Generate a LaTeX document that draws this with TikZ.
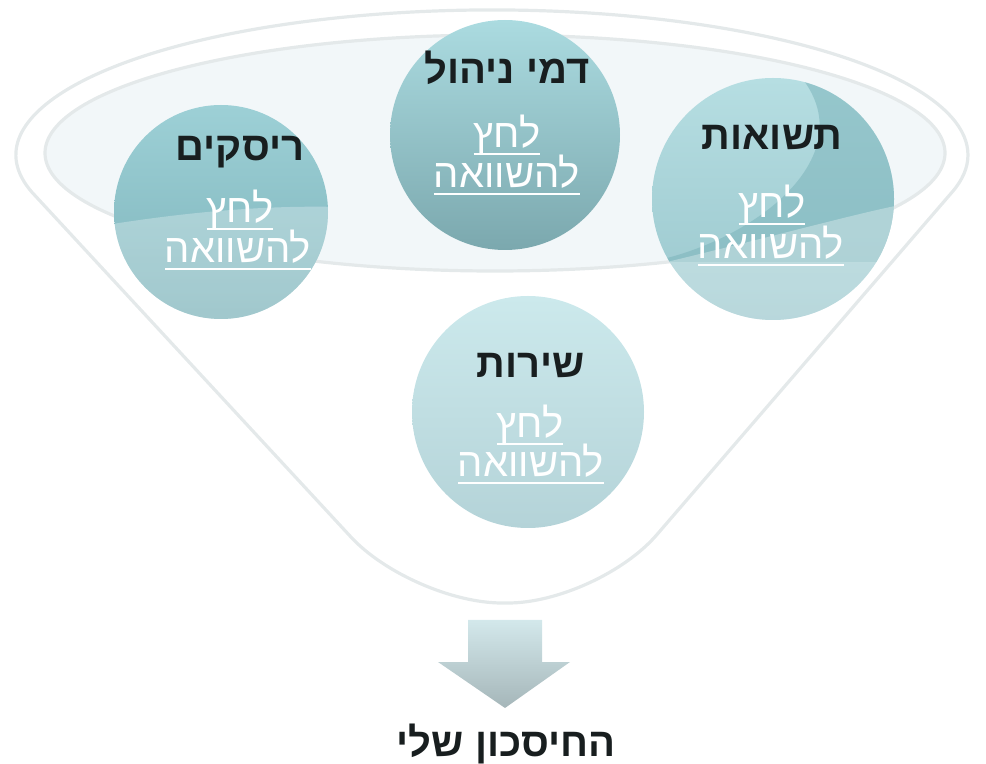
\documentclass[tikz,border=0pt]{standalone}
\usepackage{fontspec}
\setmainfont{Liberation Sans}
\newfontfamily\hebfont[Script=Hebrew]{Liberation Sans}
\TeXXeTstate=1
\usetikzlibrary{positioning}
\definecolor{rimline}{HTML}{E4E9EA}
\definecolor{rimfill}{HTML}{F2F7F9}
\definecolor{inkgray}{HTML}{181E1F}
\definecolor{crest}{HTML}{7CB4BB}
\definecolor{rskA}{HTML}{9DD0D6}
\definecolor{rskB}{HTML}{7DB3BA}
\definecolor{dmiA}{HTML}{ABDBE0}
\definecolor{dmiB}{HTML}{7BA8AE}
\definecolor{tshA}{HTML}{B6DEE2}
\definecolor{tshB}{HTML}{9AC7CD}
\definecolor{shrA}{HTML}{CCE9EC}
\definecolor{shrB}{HTML}{B4D3D8}
\definecolor{arrA}{HTML}{D3E8EB}
\definecolor{arrB}{HTML}{A5B6B9}
\tikzset{
  rim/.style={draw=rimline,line width=1.6},
  ball/.style={circle,inner sep=0pt,minimum size=#1},
  ttl/.style={font=\hebfont\bfseries\fontsize{20}{20}\selectfont,text=inkgray,inner sep=0pt,anchor=base},
  lnk/.style={font=\hebfont\fontsize{20}{20}\selectfont,text=white,inner sep=0pt,anchor=base}
}
\newcommand{\rl}[1]{\beginR #1\endR}
\newcommand{\ul}[1]{\setbox0\hbox{\beginR #1\endR}\dp0=0pt\vtop{\box0\kern2.6pt\hrule height .9pt}}

\begin{document}
\begin{tikzpicture}[x=0.5pt,y=-0.5pt]
  \useasboundingbox (0,0) rectangle (986,764);
  % funnel
  \draw[rim] (32.2,192.5) arc[start angle=165,end angle=375,x radius=476,y radius=145]
    -- (774.9,397.7) [rounded corners=45] -- (598,603) -- (412,603) -- (222,397.7) [sharp corners] -- cycle;
  \draw[rim,fill=rimfill] (495,153) ellipse[x radius=450,y radius=118];

  % bubbles
  \node[ball=107pt,top color=rskA,bottom color=rskB] (rsk) at (221,212) {};
  \node[ball=115pt,top color=dmiA,bottom color=dmiB] (dmi) at (505,135) {};
  \node[ball=121pt,top color=tshA,bottom color=tshB] (tsh) at (773,199) {};
  \node[ball=116pt,top color=shrA,bottom color=shrB] (shr) at (528,412) {};

  \begin{scope}
    \clip (rsk.center) circle[radius=107];
    \fill[white,opacity=.28] (100,226) .. controls (180,213) and (260,205) .. (340,207) -- (340,330) -- (100,330) -- cycle;
  \end{scope}
  \begin{scope}
    \clip (tsh.center) circle[radius=121];
    \fill[crest,opacity=.55] (795,70) .. controls (870,150) and (760,240) .. (650,262) -- (900,262) -- (900,70) -- cycle;
    \fill[white,opacity=.3] (650,266) .. controls (760,240) and (850,215) .. (900,205) -- (900,330) -- (650,330) -- cycle;
  \end{scope}

  % texts
  \node[ttl] (rsk-t) at (240,161) {\rl{ריסקים}};
  \node[lnk] (rsk-a) at (240,223) {\ul{לחץ}};
  \node[lnk] (rsk-b) at (238,263) {\ul{להשוואה}};

  \node[ttl] (dmi-t) at (507,84) {\rl{דמי ניהול}};
  \node[lnk] (dmi-a) at (507,148) {\ul{לחץ}};
  \node[lnk] (dmi-b) at (507,188) {\ul{להשוואה}};

  \node[ttl] (tsh-t) at (772,150) {\rl{תשואות}};
  \node[lnk] (tsh-a) at (772,218) {\ul{לחץ}};
  \node[lnk] (tsh-b) at (771,259) {\ul{להשוואה}};

  \node[ttl] (shr-t) at (531,378) {\rl{שירות}};
  \node[lnk] (shr-a) at (530,438) {\ul{לחץ}};
  \node[lnk] (shr-b) at (531,477) {\ul{להשוואה}};

  % arrow
  \shade[top color=arrA,bottom color=arrB]
    (468,620) -- (542,620) -- (542,662) -- (570,662) -- (505,708) -- (438,662) -- (468,662) -- cycle;
  \node[ttl] (sum) at (506,756) {\rl{החיסכון שלי}};
\end{tikzpicture}
\end{document}
